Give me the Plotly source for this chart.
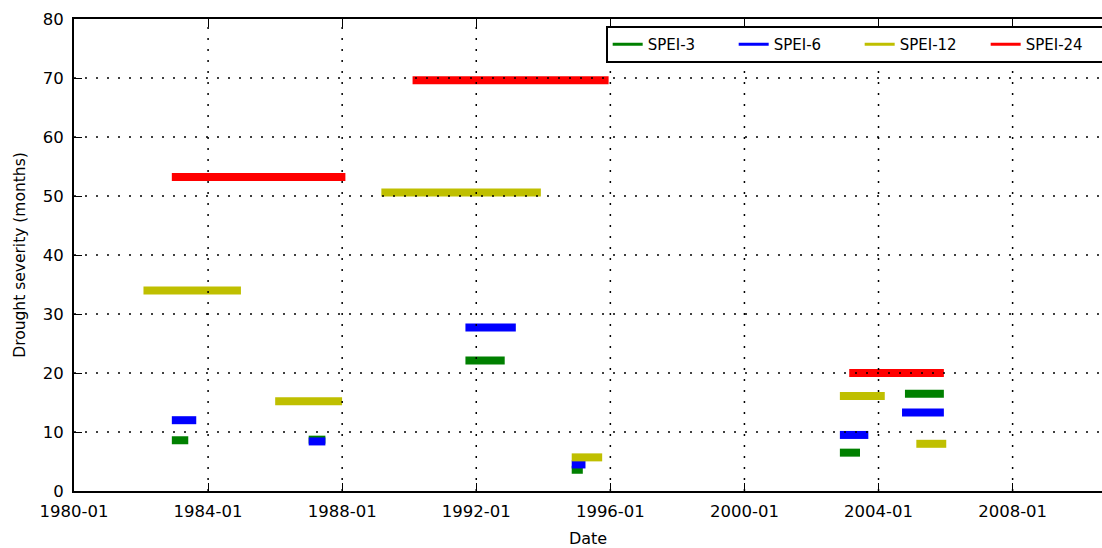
import plotly.graph_objects as go

# ---- data ----
series_names = ["SPEI-3", "SPEI-6", "SPEI-12", "SPEI-24"]
series_colors = ["#008000", "#0000FF", "#BFBF00", "#FF0000"]

spei3_start = ["1982-12-02", "1987-01-01", "1991-09-05", "1994-11-06", "2002-11-06", "2004-10-15"]
spei3_end = ["1983-05-30", "1987-07-02", "1992-11-06", "1995-03-07", "2003-06-13", "2005-12-13"]
spei3_sev = [8.6, 8.7, 22.1, 3.6, 6.5, 16.5]

spei6_start = ["1982-12-02", "1987-01-01", "1991-09-05", "1994-11-06", "2002-11-06", "2004-09-13"]
spei6_end = ["1983-08-25", "1987-07-02", "1993-03-07", "1995-04-05", "2003-09-12", "2005-12-13"]
spei6_sev = [12.0, 8.4, 27.7, 4.5, 9.5, 13.3]

spei12_start = ["1982-01-27", "1986-01-01", "1989-03-03", "1994-11-06", "2002-11-06", "2005-02-16"]
spei12_end = ["1984-12-24", "1987-12-31", "1993-12-05", "1995-10-04", "2004-03-09", "2006-01-08"]
spei12_sev = [34.0, 15.2, 50.6, 5.7, 16.1, 8.0]

spei24_start = ["1982-12-02", "1990-02-06", "2003-02-16"]
spei24_end = ["1988-02-05", "1995-12-13", "2005-12-13"]
spei24_sev = [53.2, 69.6, 20.0]

y_ticks = [0, 10, 20, 30, 40, 50, 60, 70, 80]
x_ticks = ["1980-01-01", "1984-01-01", "1988-01-01", "1992-01-01", "1996-01-01",
           "2000-01-01", "2004-01-01", "2008-01-01"]
x_range = ["1980-01-01", "2010-09-01"]

all_series = [
    (spei3_start, spei3_end, spei3_sev),
    (spei6_start, spei6_end, spei6_sev),
    (spei12_start, spei12_end, spei12_sev),
    (spei24_start, spei24_end, spei24_sev),
]

FONT = "DejaVu Sans"
fig = go.Figure()

for name, color, (starts, ends, sevs) in zip(series_names, series_colors, all_series):
    xs, ys = [], []
    for s, e, v in zip(starts, ends, sevs):
        xs += [s, e, None]
        ys += [v, v, None]
    fig.add_trace(go.Scatter(x=xs, y=ys, mode="lines", name=name, showlegend=False,
                             line=dict(color=color, width=8), hoverinfo="skip"))

# legend-only proxies with thinner sample lines
for name, color in zip(series_names, series_colors):
    fig.add_trace(go.Scatter(x=[None], y=[None], mode="lines", name=name,
                             line=dict(color=color, width=3)))

# dotted grid drawn above the data (as in the original)
grid_dash = "2px,9px"
for t in y_ticks[1:-1]:
    fig.add_shape(type="line", xref="paper", yref="y", x0=0, x1=1, y0=t, y1=t,
                  line=dict(color="black", width=1.5, dash=grid_dash), layer="above")
for t in x_ticks[1:]:
    fig.add_shape(type="line", xref="x", yref="paper", x0=t, x1=t, y0=0, y1=1,
                  line=dict(color="black", width=1.5, dash=grid_dash), layer="above")

fig.update_layout(
    width=1102, height=548,
    margin=dict(l=74, r=0, t=19, b=57, autoexpand=False),
    paper_bgcolor="white", plot_bgcolor="white",
    font=dict(family=FONT, size=16, color="black"),
    showlegend=True,
    legend=dict(orientation="h", x=0.5172, y=0.985, xanchor="left", yanchor="top",
                bordercolor="black", borderwidth=2, bgcolor="white",
                font=dict(family=FONT, size=15), entrywidth=81, entrywidthmode="pixels",
                tracegroupgap=0),
)

fig.update_xaxes(
    type="date", range=x_range, tickvals=x_ticks, tickformat="%Y-%m",
    showgrid=False, zeroline=False, automargin=False,
    showline=True, linecolor="black", linewidth=2, mirror="allticks",
    ticks="inside", ticklen=8, tickwidth=1, tickcolor="black",
    ticklabelstandoff=4,
    tickfont=dict(family=FONT, size=16.5),
    title=dict(text="Date", font=dict(family=FONT, size=16), standoff=16),
)
fig.update_yaxes(
    range=[0, 80], tickvals=y_ticks,
    showgrid=False, zeroline=False, automargin=False,
    showline=True, linecolor="black", linewidth=2,
    ticks="inside", ticklen=8, tickwidth=1, tickcolor="black",
    ticklabelstandoff=5,
    tickfont=dict(family=FONT, size=16.5),
    title=dict(text="Drought severity (months)", font=dict(family=FONT, size=15.5), standoff=13),
)

fig.write_html("out.html")
